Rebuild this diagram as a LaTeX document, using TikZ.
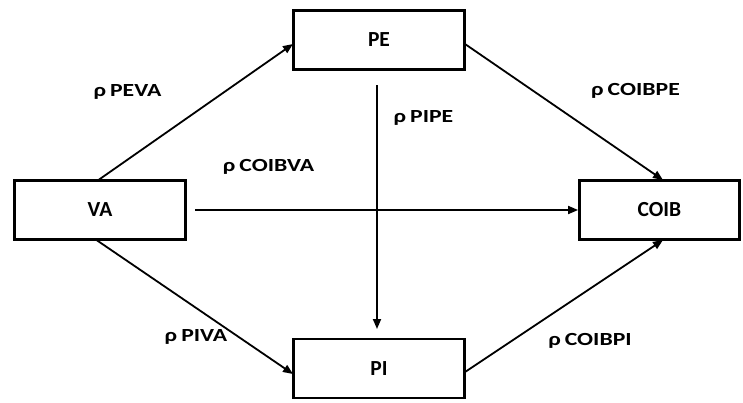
\documentclass[tikz,border=0pt]{standalone}
\usepackage{fontspec}
\setmainfont{Carlito}
\newfontfamily\lblfont[FakeStretch=1.28]{Carlito}
\usetikzlibrary{arrows.meta}
\newcommand{\rhol}[1]{ρ\kern4pt#1}
\begin{document}
\begin{tikzpicture}[x=1pt,y=-1pt,
  box/.style={draw,line width=2.8pt,minimum width=171pt,minimum height=59pt,inner sep=0pt,font=\bfseries\fontsize{21.5}{24}\selectfont},
  conn/.style={line width=1.8pt,-{Triangle[length=10pt,width=8pt]}},
  lbl/.style={font=\lblfont\bfseries\fontsize{18.5}{21}\selectfont,inner sep=0pt}]
\useasboundingbox (0,0) rectangle (743,402);
\node[box] (PE) at (379,40) {PE};
\node[box] (VA) at (100,210) {VA};
\node[box] (COIB) at (659.5,210) [minimum width=160pt] {COIB};
\node[box] (PI) at (379,368.5) {PI};
\coordinate (vaT) at (97,181);
\coordinate (vaB) at (95,239);
\coordinate (peL) at (293,44);
\coordinate (peR) at (465,44);
\coordinate (piL) at (293,374);
\coordinate (piR) at (465,372);
\coordinate (coT) at (663,180);
\coordinate (coB) at (663,240);
\coordinate (vaR) at (195,210);
\coordinate (peB) at (377,85);
\coordinate (piT) at (377,329);
\draw[conn] (vaT) -- (peL);
\draw[conn] (peR) -- (coT);
\draw[conn] (vaR) -- (COIB.west);
\draw[conn] (peB) -- (piT);
\draw[conn] (vaB) -- (piL);
\draw[conn] (piR) -- (coB);
\node[lbl] (l1) at (127.5,92) {\rhol{PEVA}};
\node[lbl] (l2) at (268.5,167) {\rhol{COIBVA}};
\node[lbl] (l3) at (423.5,118) {\rhol{PIPE}};
\node[lbl] (l4) at (635.5,91) {\rhol{COIBPE}};
\node[lbl] (l5) at (196,337) {\rhol{PIVA}};
\node[lbl] (l6) at (590,341) {\rhol{COIBPI}};
\end{tikzpicture}
\end{document}
